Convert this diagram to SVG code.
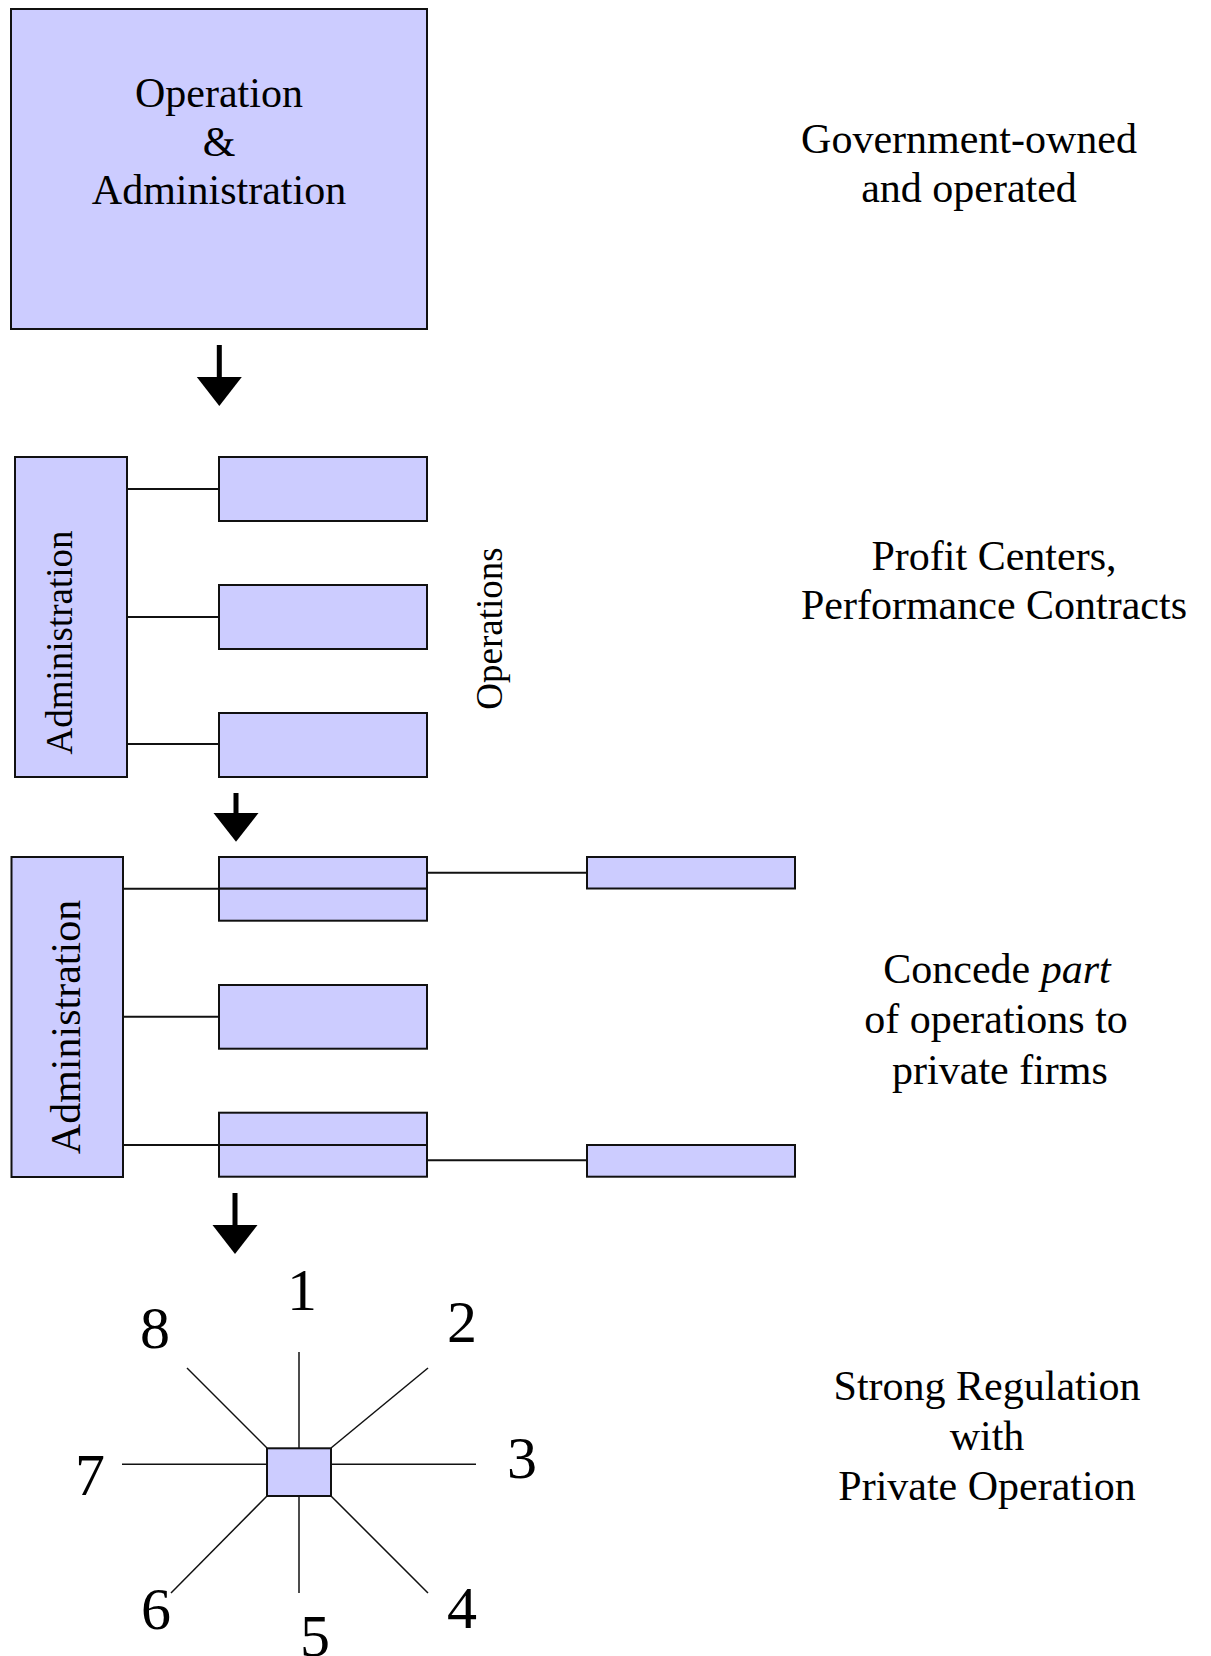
<svg xmlns="http://www.w3.org/2000/svg" width="1211" height="1656" viewBox="0 0 1211 1656">
<style>
.box{fill:#CCCCFF;stroke:#111;stroke-width:2}
.ln{stroke:#111;stroke-width:2;fill:none}
.thin{stroke:#111;stroke-width:1.5;fill:none}
.t{font-family:"Liberation Serif","Times New Roman",serif;fill:#000;text-anchor:middle}
.arrow{fill:#000}
</style>
<defs>
<g id="downArrow">
<rect x="-2.5" y="0" width="5" height="33"/>
<polygon points="-22.5,32 22.5,32 0,61"/>
</g>
</defs>
<rect width="1211" height="1656" fill="#fff"/>

<g id="connectors">
<line class="ln" x1="123" y1="489" x2="219" y2="489"/>
<line class="ln" x1="123" y1="617" x2="219" y2="617"/>
<line class="ln" x1="123" y1="744" x2="219" y2="744"/>
<line class="ln" x1="123" y1="888.7" x2="219" y2="888.7"/>
<line class="ln" x1="123" y1="1016.7" x2="219" y2="1016.7"/>
<line class="ln" x1="123" y1="1145" x2="219" y2="1145"/>
<line class="ln" x1="427" y1="872.7" x2="587" y2="872.7"/>
<line class="ln" x1="427" y1="1160.3" x2="587" y2="1160.3"/>
<line class="thin" x1="299" y1="1352" x2="299" y2="1448"/>
<line class="thin" x1="299" y1="1496" x2="299" y2="1593"/>
<line class="thin" x1="331" y1="1464.3" x2="476" y2="1464.3"/>
<line class="thin" x1="122" y1="1464.3" x2="267" y2="1464.3"/>
<line class="thin" x1="331" y1="1448" x2="428" y2="1368"/>
<line class="thin" x1="267" y1="1448" x2="187" y2="1368"/>
<line class="thin" x1="331" y1="1496" x2="428" y2="1593"/>
<line class="thin" x1="267" y1="1496" x2="171" y2="1593"/>
<use href="#downArrow" class="arrow" transform="translate(219.3,345)"/>
<g class="arrow" transform="translate(236,793) scale(1,0.8)"><rect x="-2.5" y="0" width="5" height="26"/><polygon points="-22.5,25 22.5,25 0,61"/></g>
<use href="#downArrow" class="arrow" transform="translate(235,1193)"/>
</g>

<g id="node-opadmin">
<rect class="box" x="11" y="9" width="416" height="320"/>
<text class="t" font-size="42" x="219" y="107">Operation</text>
<text class="t" font-size="42" x="219" y="156">&amp;</text>
<text class="t" font-size="42" x="219" y="204">Administration</text>
</g>

<g id="node-admin1">
<rect class="box" x="15" y="457" width="112" height="320"/>
<text class="t" font-size="37" transform="translate(71.5,642.5) rotate(-90)">Administration</text>
</g>
<g id="node-op1a"><rect class="box" x="219" y="457" width="208" height="64"/></g>
<g id="node-op1b"><rect class="box" x="219" y="585" width="208" height="64"/></g>
<g id="node-op1c"><rect class="box" x="219" y="713" width="208" height="64"/></g>
<g id="label-operations">
<text class="t" font-size="37" transform="translate(502,628.5) rotate(-90)">Operations</text>
</g>

<g id="node-admin2">
<rect class="box" x="11.5" y="857" width="111.5" height="320"/>
<text class="t" font-size="42" transform="translate(80,1027) rotate(-90)">Administration</text>
</g>
<g id="node-op2a">
<rect class="box" x="219" y="857" width="208" height="31.7"/>
<rect class="box" x="219" y="888.7" width="208" height="32"/>
</g>
<g id="node-op2b"><rect class="box" x="219" y="985" width="208" height="63.7"/></g>
<g id="node-op2c">
<rect class="box" x="219" y="1112.7" width="208" height="32.3"/>
<rect class="box" x="219" y="1145" width="208" height="31.7"/>
</g>
<g id="node-private1"><rect class="box" x="587" y="857" width="208" height="31.5"/></g>
<g id="node-private2"><rect class="box" x="587" y="1145" width="208" height="31.7"/></g>

<g id="node-regulator">
<rect class="box" x="267" y="1448.3" width="64" height="47.7"/>
</g>
<g id="star-labels">
<text class="t" font-size="60" x="302" y="1310">1</text>
<text class="t" font-size="60" x="462" y="1341.7">2</text>
<text class="t" font-size="60" x="522" y="1478.3">3</text>
<text class="t" font-size="60" x="462" y="1628.3">4</text>
<text class="t" font-size="60" x="315" y="1656">5</text>
<text class="t" font-size="60" x="156" y="1629.3">6</text>
<text class="t" font-size="60" x="90" y="1495">7</text>
<text class="t" font-size="60" x="155" y="1348.3">8</text>
</g>

<g id="label-stage1">
<text class="t" font-size="42" x="969" y="153.3">Government-owned</text>
<text class="t" font-size="42" x="969" y="202.3">and operated</text>
</g>
<g id="label-stage2">
<text class="t" font-size="42" x="994" y="570">Profit Centers,</text>
<text class="t" font-size="42" x="994" y="619">Performance Contracts</text>
</g>
<g id="label-stage3">
<text class="t" font-size="42" x="997" y="983.3">Concede <tspan font-style="italic">part</tspan></text>
<text class="t" font-size="42" x="996" y="1033.3">of operations to</text>
<text class="t" font-size="42" x="1000" y="1084">private firms</text>
</g>
<g id="label-stage4">
<text class="t" font-size="42" x="987" y="1400">Strong Regulation</text>
<text class="t" font-size="42" x="987" y="1450">with</text>
<text class="t" font-size="42" x="987" y="1500">Private Operation</text>
</g>
</svg>
